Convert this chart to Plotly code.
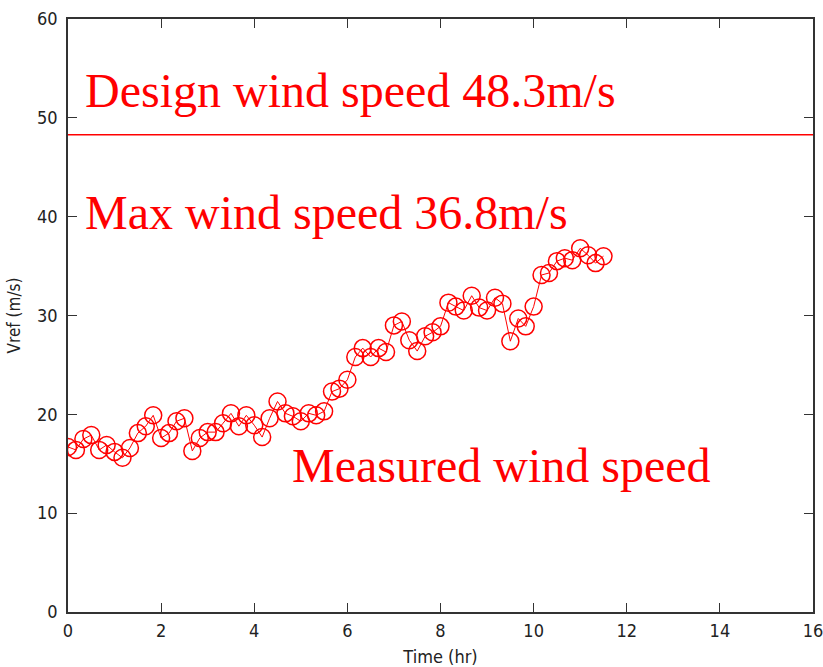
import plotly.graph_objects as go

# Measured reference wind speed, sampled every 10 minutes
time_hr = [0.00, 0.17, 0.33, 0.50, 0.67, 0.83, 1.00, 1.17, 1.33, 1.50,
           1.67, 1.83, 2.00, 2.17, 2.33, 2.50, 2.67, 2.83, 3.00, 3.17,
           3.33, 3.50, 3.67, 3.83, 4.00, 4.17, 4.33, 4.50, 4.67, 4.83,
           5.00, 5.17, 5.33, 5.50, 5.67, 5.83, 6.00, 6.17, 6.33, 6.50,
           6.67, 6.83, 7.00, 7.17, 7.33, 7.50, 7.67, 7.83, 8.00, 8.17,
           8.33, 8.50, 8.67, 8.83, 9.00, 9.17, 9.33, 9.50, 9.67, 9.83,
           10.00, 10.17, 10.33, 10.50, 10.67, 10.83, 11.00, 11.17, 11.33, 11.50]
vref = [16.7, 16.4, 17.5, 17.9, 16.4, 16.9, 16.2, 15.6, 16.6, 18.1,
        18.8, 19.9, 17.6, 18.1, 19.3, 19.6, 16.3, 17.6, 18.2, 18.2,
        19.1, 20.1, 18.8, 19.9, 18.9, 17.7, 19.6, 21.3, 20.1, 19.8,
        19.3, 20.1, 19.9, 20.3, 22.3, 22.6, 23.5, 25.8, 26.7, 25.8,
        26.7, 26.3, 29.0, 29.4, 27.5, 26.4, 27.9, 28.3, 28.9, 31.3,
        30.9, 30.5, 32.0, 30.8, 30.5, 31.8, 31.2, 27.4, 29.7, 28.9,
        30.9, 34.1, 34.3, 35.5, 35.8, 35.6, 36.8, 36.1, 35.3, 36.0]

design_speed = 48.3
max_speed = 36.8

x_range = [0, 16]
y_range = [0, 60]
x_ticks = [0, 2, 4, 6, 8, 10, 12, 14, 16]
y_ticks = [0, 10, 20, 30, 40, 50, 60]

RED = "#ff0000"
SERIF = "Liberation Serif, Times New Roman, serif"
NARROW = "Liberation Sans Narrow, DejaVu Sans Condensed, Arial Narrow, sans-serif"

fig = go.Figure()

# design wind speed limit
fig.add_trace(go.Scatter(
    x=x_range, y=[design_speed, design_speed],
    mode="lines", line=dict(color=RED, width=1.5),
    hoverinfo="skip", showlegend=False,
))

# measured series
fig.add_trace(go.Scatter(
    x=time_hr, y=vref,
    mode="lines+markers",
    line=dict(color=RED, width=1),
    marker=dict(symbol="circle-open", size=17, color=RED, line=dict(width=1.5, color=RED)),
    showlegend=False,
))

labels = [
    (0.33, 52.8, f"Design wind speed {design_speed}m/s"),
    (0.33, 40.4, f"Max wind speed {max_speed}m/s"),
    (4.77, 14.8, "Measured wind speed"),
]
for lx, ly, txt in labels:
    fig.add_annotation(
        x=lx, y=ly, text=txt, showarrow=False,
        xanchor="left", yanchor="middle",
        font=dict(family=SERIF, size=48, color=RED),
    )

axis_common = dict(
    showline=True, linecolor="#333333", linewidth=1.5, mirror="ticks",
    ticks="inside", ticklen=9, tickwidth=1.2, tickcolor="#333333",
    showgrid=False, zeroline=False, automargin=False,
    ticklabeloverflow="allow",
    tickfont=dict(family=NARROW, size=18, color="#222222"),
)

fig.update_xaxes(
    range=x_range, tickvals=x_ticks, ticktext=[str(v) for v in x_ticks],
    ticklabelstandoff=2,
    title=dict(text="Time (hr)", font=dict(family=NARROW, size=18, color="#222222"), standoff=11),
    **axis_common,
)
fig.update_yaxes(
    range=y_range, tickvals=y_ticks, ticktext=[str(v) for v in y_ticks],
    ticklabelstandoff=5,
    title=dict(text="Vref (m/s)", font=dict(family=NARROW, size=17, color="#222222"), standoff=12),
    **axis_common,
)

fig.update_layout(
    width=823, height=667,
    margin=dict(l=68, r=10, t=19, b=55),
    paper_bgcolor="white", plot_bgcolor="white",
)

fig.write_html("out.html")
